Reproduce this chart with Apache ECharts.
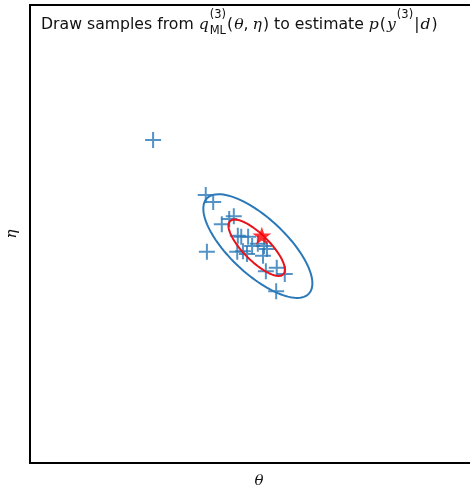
<!DOCTYPE html>
<html>
<head>
<meta charset="utf-8">
<script src="https://cdn.jsdelivr.net/npm/echarts@6/dist/echarts.min.js"></script>
<style>
html, body { margin: 0; padding: 0; background: #fff; }
#main { width: 470px; height: 487px; }
</style>
</head>
<body>
<div id="main"></div>
<script>
// samples drawn from q_ML (theta, eta)
var sampleTheta = [-1.85, -0.93, -0.80, -0.65, -0.52, -0.44, -0.91, -0.37, -0.31, -0.38, -0.28,
	-0.21, -0.12, -0.02, 0.09, 0.14, 0.07, 0.12, 0.31, 0.45, 0.30, -0.19];
var sampleEta = [1.64, 0.68, 0.56, 0.17, 0.26, 0.31, -0.31, -0.03, -0.05, -0.31, -0.30,
	-0.35, -0.21, -0.17, -0.21, -0.26, -0.38, -0.65, -0.59, -0.70, -1.00, -0.05];
// ML point (red star)
var mlTheta = [0.05];
var mlEta = [-0.03];
// ellipses: centre theta, centre eta, semi-major, semi-minor, angle (deg)
var outerEllipse = [-0.02, -0.21, 1.22, 0.49, -43];
var innerEllipse = [-0.04, -0.24, 0.66, 0.23, -45];

var blue = '#2a78b8';
var red = '#e8141c';
var FONT = 'DejaVu Sans';
var MATH = 'DejaVu Serif';

function ellipsePoints(e) {
	var pts = [];
	var phi = e[4] * Math.PI / 180;
	for (var i = 0; i <= 120; i++) {
		var t = 2 * Math.PI * i / 120;
		var x = e[0] + e[2] * Math.cos(t) * Math.cos(phi) - e[3] * Math.sin(t) * Math.sin(phi);
		var y = e[1] + e[2] * Math.cos(t) * Math.sin(phi) + e[3] * Math.sin(t) * Math.cos(phi);
		pts.push([x, y]);
	}
	return pts;
}

function pairs(xs, ys) {
	return xs.map(function (x, i) { return [x, ys[i]]; });
}

// title text built from pieces (with stacked sub/superscript)
var ctx = document.createElement('canvas').getContext('2d');
function fontOf(size, italic) {
	return italic ? 'italic ' + size + 'px "' + MATH + '"' : size + 'px "' + FONT + '"';
}
function textW(s, size, italic) {
	ctx.font = fontOf(size, italic);
	return ctx.measureText(s).width;
}
var mainSize = 15.7, smallSize = 11.5, baseY = 25;
// [text, italic, extra space after]
var titleParts = [
	['Draw samples from ', 0, 0], ['q', 1, 0], ['STACK'], ['(', 0, 1], ['θ', 1, 0], [',', 0, 4], ['η', 1, 1],
	[')', 0, 0], [' to estimate ', 0, 0], ['p', 1, 1], ['(', 0, 1], ['y', 1, 0], ['SUP'], ['|', 0, 1], ['d', 1, 1], [')', 0, 0]
];
var titleEls = [];
var cx = 41;
function addText(s, x, y, size, italic) {
	titleEls.push({
		type: 'text', x: x, y: y, silent: true,
		style: { text: s, fill: '#111', font: fontOf(size, italic), verticalAlign: 'middle', align: 'left' }
	});
}
titleParts.forEach(function (p) {
	if (p[0] === 'STACK') {
		addText('(3)', cx + 1, baseY - 9.5, smallSize, 0);
		addText('ML', cx + 1, baseY + 6, smallSize, 0);
		cx += Math.max(textW('(3)', smallSize, 0), textW('ML', smallSize, 0)) + 2;
	} else if (p[0] === 'SUP') {
		addText('(3)', cx + 1, baseY - 9.5, smallSize, 0);
		cx += textW('(3)', smallSize, 0) + 2;
	} else {
		addText(p[0], cx, baseY, mainSize, p[1]);
		cx += textW(p[0], mainSize, p[1]) + p[2];
	}
});

var myChart = echarts.init(document.getElementById('main'));

var option = {
	animation: false,
	backgroundColor: '#fff',
	grid: {
		left: 30, top: 5, bottom: 24, right: -18,
		outerBoundsMode: 'none', containLabel: false,
		show: true, borderColor: '#000', borderWidth: 2, backgroundColor: 'transparent'
	},
	xAxis: {
		type: 'value', min: -4, max: 4,
		name: 'θ', nameLocation: 'middle', nameGap: 11,
		nameTextStyle: { fontFamily: MATH, fontStyle: 'italic', fontSize: 15, color: '#111' },
		axisLine: { show: false }, axisTick: { show: false }, axisLabel: { show: false }, splitLine: { show: false }
	},
	yAxis: {
		type: 'value', min: -4, max: 4,
		name: 'η', nameLocation: 'middle', nameGap: 10, nameRotate: 90,
		nameTextStyle: { fontFamily: MATH, fontStyle: 'italic', fontSize: 15, color: '#111' },
		axisLine: { show: false }, axisTick: { show: false }, axisLabel: { show: false }, splitLine: { show: false }
	},
	series: [
		{
			name: 'samples', type: 'scatter', z: 2,
			symbol: 'path://M-1,-8 h2 v7 h7 v2 h-7 v7 h-2 v-7 h-7 v-2 h7 z',
			symbolSize: 16,
			itemStyle: { color: blue },
			data: pairs(sampleTheta, sampleEta)
		},
		{
			name: 'outer', type: 'line', z: 3, showSymbol: false, silent: true,
			lineStyle: { color: blue, width: 2 },
			data: ellipsePoints(outerEllipse)
		},
		{
			name: 'inner', type: 'line', z: 4, showSymbol: false, silent: true,
			lineStyle: { color: red, width: 2 },
			data: ellipsePoints(innerEllipse)
		},
		{
			name: 'ml', type: 'scatter', z: 5,
			symbol: 'path://M0,-100 L22.45,-30.9 L95.1,-30.9 L36.3,11.8 L58.8,80.9 L0,38.2 L-58.8,80.9 L-36.3,11.8 L-95.1,-30.9 L-22.45,-30.9 Z',
			symbolSize: [19, 18],
			itemStyle: { color: 'red' },
			data: pairs(mlTheta, mlEta)
		}
	],
	graphic: titleEls
};

myChart.setOption(option);
</script>
</body>
</html>
